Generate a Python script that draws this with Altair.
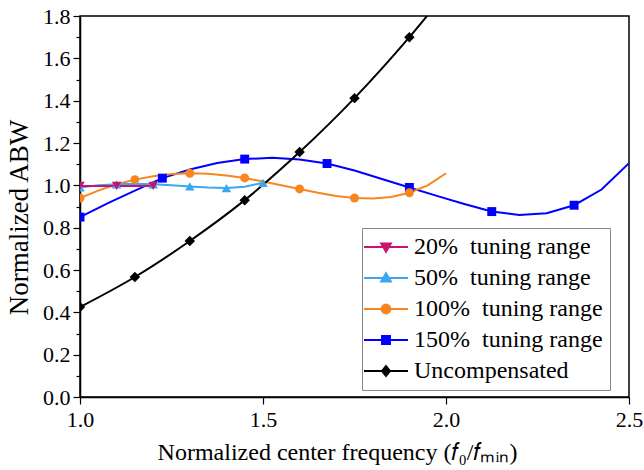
import altair as alt
import pandas as pd

FONT = "Liberation Serif, Times New Roman, Times, serif"

series_names = ["20%\u00a0 tuning range", "50%\u00a0 tuning range", "100%\u00a0 tuning range",
                "150%\u00a0 tuning range", "Uncompensated"]
series_colors = ["#C8146E", "#3AA8F0", "#F7861E", "#0000FF", "#000000"]
marker_shapes = ["triangle-down", "triangle-up", "circle", "square", "diamond"]
marker_sizes = [90, 90, 80, 80, 110]

# 20% tuning range
pink_x = [1.0, 1.05, 1.1, 1.15, 1.2]
pink_y = [0.997, 0.997, 0.997, 0.997, 0.997]
pink_mx = [1.0, 1.1, 1.2]

# 50% tuning range
lblue_x = [1.0, 1.05, 1.1, 1.15, 1.2, 1.25, 1.3, 1.35, 1.4, 1.45, 1.5]
lblue_y = [0.99, 1.0, 1.005, 1.007, 1.005, 1.0, 0.995, 0.99, 0.987, 0.993, 1.012]
lblue_mx = [1.0, 1.1, 1.2, 1.3, 1.4, 1.5]

# 100% tuning range
orange_x = [1.0, 1.05, 1.1, 1.15, 1.2, 1.25, 1.3, 1.35, 1.4, 1.45, 1.5,
            1.55, 1.6, 1.65, 1.7, 1.75, 1.8, 1.85, 1.9, 1.95, 2.0]
orange_y = [0.94, 0.975, 1.005, 1.027, 1.043, 1.053, 1.057, 1.055, 1.047, 1.035, 1.018,
            1.0, 0.983, 0.965, 0.95, 0.94, 0.938, 0.945, 0.965, 1.0, 1.057]
orange_mx = [1.0, 1.15, 1.3, 1.45, 1.6, 1.75, 1.9]

# 150% tuning range
blue_x = [1.0, 1.075, 1.15, 1.225, 1.3, 1.375, 1.45, 1.525, 1.6, 1.675, 1.75,
          1.825, 1.9, 1.975, 2.05, 2.125, 2.2, 2.275, 2.35, 2.425, 2.5]
blue_y = [0.85, 0.915, 0.975, 1.034, 1.075, 1.105, 1.124, 1.13, 1.122, 1.103, 1.07,
          1.03, 0.99, 0.95, 0.912, 0.876, 0.86, 0.868, 0.906, 0.98, 1.105]
blue_mx = [1.0, 1.225, 1.45, 1.675, 1.9, 2.125, 2.35]

# Uncompensated
black_x = [1.0, 1.15, 1.3, 1.45, 1.6, 1.75, 1.9, 2.05]
black_y = [0.425, 0.567, 0.737, 0.93, 1.157, 1.412, 1.70, 2.02]
black_mx = [1.0, 1.15, 1.3, 1.45, 1.6, 1.75, 1.9, 2.05]

x_ticks = [1.0, 1.5, 2.0, 2.5]
y_ticks = [0.0, 0.2, 0.4, 0.6, 0.8, 1.0, 1.2, 1.4, 1.6, 1.8]
y_minor = [0.1, 0.3, 0.5, 0.7, 0.9, 1.1, 1.3, 1.5, 1.7]

# legend symbols: a line segment with the marker on it (unit square scaled by sqrt(size)/2)
legend_paths = [
    "M-2,0H2M0,0.44L0.44,-0.32L-0.44,-0.32Z",
    "M-2,0H2M0,-0.44L0.44,0.32L-0.44,0.32Z",
    "M-2,0H2M-0.4,0A0.4,0.4,0,1,0,0.4,0A0.4,0.4,0,1,0,-0.4,0Z",
    "M-2,0H2M-0.36,-0.36H0.36V0.36H-0.36Z",
    "M-2,0H2M0,-0.44L0.36,0L0,0.44L-0.36,0Z",
]

order = [3, 2, 1, 0, 4]  # drawing order: blue, orange, light blue, pink, black
all_x = [pink_x, lblue_x, orange_x, blue_x, black_x]
all_y = [pink_y, lblue_y, orange_y, blue_y, black_y]
all_m = [pink_mx, lblue_mx, orange_mx, blue_mx, black_mx]

rows = []
k = 0
for s in order:
    for xv, yv in zip(all_x[s], all_y[s]):
        rows.append({"series": series_names[s], "x": xv, "y": yv, "k": k,
                     "marker": any(abs(xv - m) < 1e-9 for m in all_m[s])})
        k += 1
df = pd.DataFrame(rows)

xscale = alt.Scale(domain=[1.0, 2.5], nice=False, zero=False)
yscale = alt.Scale(domain=[0.0, 1.8], nice=False, zero=False)

xenc = alt.X("x:Q", scale=xscale,
             axis=alt.Axis(values=x_ticks, format=".1f", labelFlush=False, labelPadding=5,
                           title="Normalized center frequency (\U0001D453\u2080/\U0001D453\u2098\u1D62\u2099)",
                           titlePadding=10, titleX=257))
yenc = alt.Y("y:Q", scale=yscale,
             axis=alt.Axis(values=y_ticks, format=".1f", title="Normalized ABW", labelFlush=False,
                           titlePadding=9, titleFontSize=27, titleY=201, orient="left"))
ynone = alt.Y("y:Q", scale=yscale, axis=None)

layers = []
first = True
# lines
for s in order:
    name = series_names[s]
    mk = alt.Chart(df).transform_filter(alt.datum.series == name)
    if name == "Uncompensated":
        m = mk.mark_line(strokeWidth=2, clip=True, interpolate="monotone", color=series_colors[s])
    else:
        m = mk.mark_line(strokeWidth=2, clip=True, color=series_colors[s])
    layers.append(m.encode(x=xenc, y=yenc if first else ynone, order=alt.Order("k:Q")))
    first = False
# markers
for s in order:
    name = series_names[s]
    layers.append(
        alt.Chart(df).transform_filter((alt.datum.series == name) & alt.datum.marker)
        .mark_point(filled=True, size=marker_sizes[s], opacity=1, clip=True,
                    shape=marker_shapes[s], color=series_colors[s])
        .encode(x=xenc, y=ynone)
    )

cscale = alt.Scale(domain=series_names, range=series_colors)
leg = dict(title=None, orient="none", legendX=282, legendY=212, fillColor="white",
           strokeColor="#888888", padding=7, rowPadding=7, symbolSize=484, symbolOffset=5,
           symbolStrokeWidth=2, symbolFillColor="white", symbolStrokeColor="white",
           labelFont=FONT, labelFontSize=24, labelColor="black",
           labelOffset=16, labelLimit=400, symbolOpacity=1)

legend_layer = alt.Chart(df).transform_filter("false").mark_point(filled=True, opacity=1).encode(
    x=xenc, y=ynone,
    fill=alt.Fill("series:N", scale=cscale, legend=alt.Legend(**leg)),
    stroke=alt.Stroke("series:N", scale=cscale, legend=alt.Legend(**leg)),
    shape=alt.Shape("series:N", scale=alt.Scale(domain=series_names, range=legend_paths),
                    legend=alt.Legend(**leg)),
)
layers.append(legend_layer)

minor = alt.Chart(df).transform_filter("false").mark_point().encode(
    x=xenc,
    y=alt.Y("y:Q", scale=yscale,
            axis=alt.Axis(values=y_minor, labels=False, tickSize=4, domain=False,
                          title=None, grid=False, orient="left", tickColor="black", tickWidth=1.2)),
)
layers.append(minor)

chart = alt.layer(*layers).resolve_axis(y="independent").properties(
    width=549, height=381, autosize="none",
    padding={"left": 80, "top": 16, "right": 15, "bottom": 73},
).configure_view(
    stroke="black", strokeWidth=1.5
).configure_axis(
    grid=False, domainColor="black", domainWidth=1.5, tickColor="black", tickWidth=1.2,
    tickSize=7, labelFont=FONT, labelFontSize=22, labelColor="black", labelPadding=3,
    titleFont=FONT, titleFontSize=24, titleFontWeight="normal", titleColor="black",
)

chart.save("out.html", embed_options={"renderer": "svg", "actions": False})
